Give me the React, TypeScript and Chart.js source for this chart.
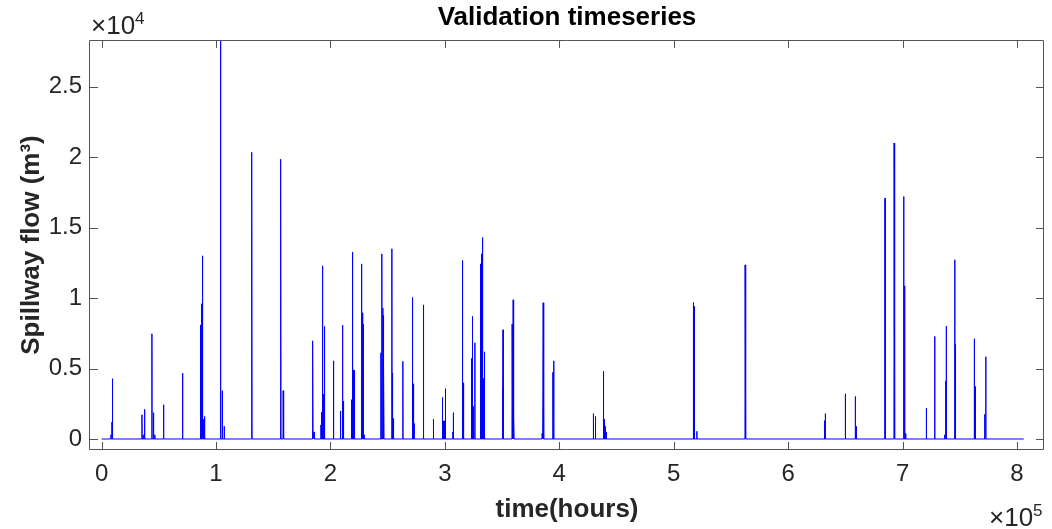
import React, { useEffect, useRef } from 'react';
import { Chart, registerables } from 'chart.js';

Chart.register(...registerables);

// Spike events: time (hours) and peak spillway flow (m^3)
const spikeHours = [
  8200, 9100, 9600, 35300, 36400, 37600, 44000, 45400, 46500, 54200,
  70800, 86500, 87400, 88200, 89100, 90000, 104000, 105500, 107200,
  131000, 131400, 156300, 156700, 158700, 159200, 184200, 184700, 185800,
  191700, 192200, 193100, 194000, 194800, 202700, 208800, 210600, 211400,
  218400, 219300, 220200, 221000, 227200, 228000, 228600, 229500,
  244100, 245000, 245900, 246300, 246700, 253700, 254300, 255100, 263300,
  271700, 272600, 273200, 281300, 290000, 297900, 298800, 299700, 300500,
  307000, 307500, 315400, 316300, 323300, 324100, 325000, 326200, 331100,
  332000, 332900, 333700, 334600, 350300, 350900,
  358800, 359700, 360300, 385000, 385900, 386500, 394400, 395200,
  429800, 431600, 438600, 439400, 440300, 441200,
  517200, 518100, 520200, 562400, 563000,
  631700, 632500, 650000, 658700, 659600, 684700, 692600, 693200,
  701000, 701800, 702700, 720800,
  728100, 736800, 737700, 738200, 745600, 746200, 762700, 763600, 771800, 772700,
];
const spikeFlows = [
  300, 1200, 4280, 1720, 300, 2100, 7470, 1870, 300, 2430,
  4680, 8100, 9600, 13000, 1400, 1600, 28320, 3430, 900,
  14770, 20350, 11490, 19860, 3430, 300, 6700, 6970, 500,
  1000, 1900, 12290, 3190, 7990, 5550, 1990, 8080, 2690,
  2790, 13260, 4910, 4880, 12430, 8960, 8130, 300,
  6120, 13140, 9290, 8770, 5270, 13500, 4680, 1460, 5510,
  10040, 3920, 1100, 9520, 1420, 2950, 1280, 1300, 3570,
  500, 1870, 12670, 3990, 5720, 8700, 2310, 6830, 12430,
  13140, 14300, 4300, 6190, 3570, 7750,
  8160, 9880, 1530, 400, 9670, 3140, 4730, 5550,
  1800, 1600, 4800, 1400, 900, 500,
  9690, 9410, 550, 12360, 9520,
  1300, 1800, 3210, 3020, 900, 17090, 21010, 5430,
  17210, 10870, 400, 2200,
  7280, 300, 4130, 8010, 12720, 6710, 7110, 3730, 1750, 5840,
];
const seriesStartHour = 0;
const seriesEndHour = 805900;

const xTickValues = [0, 100000, 200000, 300000, 400000, 500000, 600000, 700000, 800000];
const xTickLabels = ['0', '1', '2', '3', '4', '5', '6', '7', '8'];
const yTickValues = [0, 5000, 10000, 15000, 20000, 25000];
const yTickLabels = ['0', '0.5', '1', '1.5', '2', '2.5'];
const xLimits = [-10100, 823600];
const yLimits = [-781, 28320];

const FONT = '"Liberation Sans", Arial, Helvetica, sans-serif';
const TEXT = '#262626';

const framePlugin = {
  id: 'matlabFrame',
  afterDraw(chart: any) {
    const { ctx, chartArea, scales } = chart;
    const { left, right, top, bottom } = chartArea;
    const xs = scales.x;
    const ys = scales.y;
    ctx.save();
    ctx.strokeStyle = '#555555';
    ctx.lineWidth = 1;
    ctx.beginPath();
    ctx.rect(Math.round(left) - 0.5, Math.round(top) + 0.5, Math.round(right - left), Math.round(bottom - top) - 1);
    ctx.stroke();
    const tl = 8;
    ctx.beginPath();
    xTickValues.forEach((v) => {
      const px = Math.round(xs.getPixelForValue(v)) + 0.5;
      ctx.moveTo(px, bottom);
      ctx.lineTo(px, bottom - tl);
      ctx.moveTo(px, top);
      ctx.lineTo(px, top + tl);
    });
    yTickValues.forEach((v) => {
      const py = Math.round(ys.getPixelForValue(v)) + 0.5;
      ctx.moveTo(left, py);
      ctx.lineTo(left + tl, py);
      ctx.moveTo(right, py);
      ctx.lineTo(right - tl, py);
    });
    ctx.stroke();

    // exponent multipliers
    ctx.fillStyle = TEXT;
    ctx.textBaseline = 'alphabetic';
    ctx.textAlign = 'left';
    const drawExp = (x: number, baseY: number, exp: string) => {
      ctx.font = `26px ${FONT}`;
      ctx.fillText('\u00d710', x, baseY);
      const w = ctx.measureText('\u00d710').width;
      ctx.font = `17px ${FONT}`;
      ctx.fillText(exp, x + w, baseY - 10);
    };
    drawExp(left + 1, 34, '4');
    drawExp(989, 526, '5');
    ctx.restore();
  },
};

export default function App() {
  const ref = useRef<HTMLCanvasElement | null>(null);
  useEffect(() => {
    document.body.style.margin = '0';
    const points: { x: number; y: number }[] = [{ x: seriesStartHour, y: 0 }];
    spikeHours.forEach((h, i) => {
      points.push({ x: h - 150, y: 0 }, { x: h, y: spikeFlows[i] }, { x: h + 150, y: 0 });
    });
    points.push({ x: seriesEndHour, y: 0 });

    const chart = new Chart(ref.current as HTMLCanvasElement, {
      type: 'line',
      data: {
        datasets: [
          {
            data: points,
            borderColor: '#0000ff',
            borderWidth: 1,
            pointRadius: 0,
            tension: 0,
            fill: false,
            borderJoinStyle: 'bevel',
          } as any,
        ],
      },
      options: {
        animation: false,
        responsive: false,
        maintainAspectRatio: false,
        events: [],
        layout: { padding: { top: 0, right: 8, left: 0, bottom: 0 } },
        plugins: {
          legend: { display: false },
          tooltip: { enabled: false },
          title: {
            display: true,
            text: 'Validation timeseries',
            fullSize: false,
            color: '#000',
            font: { family: FONT, size: 26, weight: 'bold' },
            padding: { top: 2, bottom: 6.8 },
          },
        },
        scales: {
          x: {
            type: 'linear',
            min: xLimits[0],
            max: xLimits[1],
            afterFit: (s: any) => {
              s.height = 79;
            },
            afterBuildTicks: (s: any) => {
              s.ticks = xTickValues.map((v) => ({ value: v }));
            },
            grid: { display: false, drawTicks: false },
            border: { display: false },
            ticks: {
              autoSkip: false,
              maxRotation: 0,
              padding: 10,
              color: TEXT,
              font: { family: FONT, size: 24 },
              callback: (v: any) => xTickLabels[xTickValues.indexOf(Number(v))] ?? '',
            },
            title: {
              display: true,
              text: 'time(hours)',
              color: TEXT,
              font: { family: FONT, size: 26, weight: 'bold' },
              padding: { top: 0, bottom: 4 },
            },
          },
          y: {
            type: 'linear',
            min: yLimits[0],
            max: yLimits[1],
            afterFit: (s: any) => {
              s.width = 90;
            },
            afterBuildTicks: (s: any) => {
              s.ticks = yTickValues.map((v) => ({ value: v }));
            },
            grid: { display: false, drawTicks: false },
            border: { display: false },
            ticks: {
              autoSkip: false,
              padding: 8,
              color: TEXT,
              font: { family: FONT, size: 24 },
              callback: (v: any) => yTickLabels[yTickValues.indexOf(Number(v))] ?? '',
            },
            title: {
              display: true,
              text: 'Spillway flow (m\u00b3)',
              color: TEXT,
              font: { family: FONT, size: 26, weight: 'bold' },
              padding: { top: 16, bottom: 0 },
            },
          },
        },
      } as any,
      plugins: [framePlugin],
    });
    return () => chart.destroy();
  }, []);

  return (
    <div style={{ width: 1052, height: 529 }}>
      <canvas ref={ref} width={1052} height={529} style={{ display: 'block', width: 1052, height: 529 }} />
    </div>
  );
}
